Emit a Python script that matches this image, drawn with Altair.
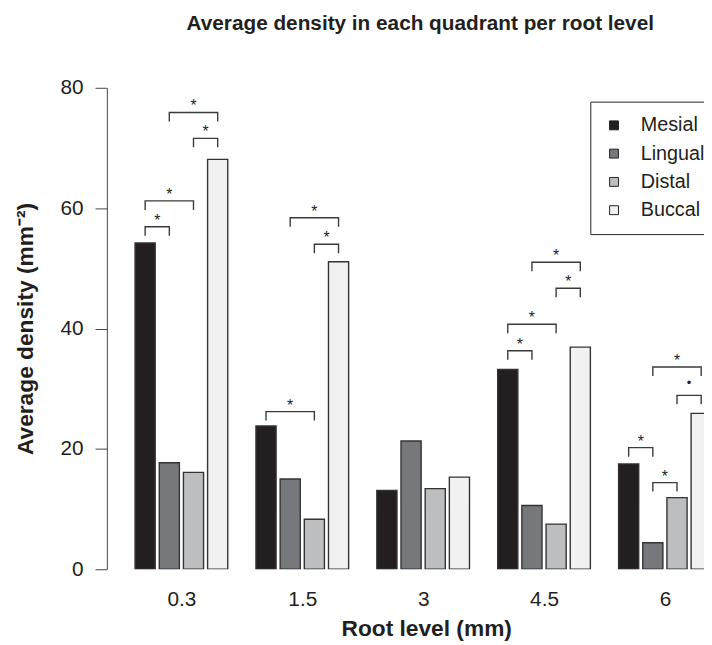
import altair as alt
import pandas as pd

# ---- data ----
levels = ["0.3", "1.5", "3", "4.5", "6"]
quadrants = ["Mesial", "Lingual", "Distal", "Buccal"]
mesial = [54.2, 23.8, 13.1, 33.2, 17.5]
lingual = [17.7, 15.0, 21.3, 10.6, 4.4]
distal = [16.1, 8.3, 13.4, 7.5, 11.9]
buccal = [68.1, 51.1, 15.3, 36.9, 25.9]
colors = ["#231f20", "#77787b", "#bcbec0", "#f1f1f2"]

# significance brackets
br_level = [0, 0, 0, 0, 1, 1, 1, 3, 3, 3, 3, 4, 4, 4, 4]
br_from = ["Mesial", "Mesial", "Distal", "Lingual", "Mesial", "Distal", "Lingual",
           "Mesial", "Mesial", "Distal", "Lingual", "Mesial", "Lingual", "Distal", "Lingual"]
br_to = ["Lingual", "Distal", "Buccal", "Buccal", "Distal", "Buccal", "Buccal",
         "Lingual", "Distal", "Buccal", "Buccal", "Lingual", "Distal", "Buccal", "Buccal"]
br_height = [56.9, 61.2, 71.6, 75.9, 26.2, 54.0, 58.4, 36.3, 40.7, 46.7, 51.0,
             20.2, 14.4, 28.9, 33.6]
br_mark = ["*"] * 13 + ["•", "*"]

# ---- layout (barplot-style units) ----
BAR_W = 1.0
GAP_IN = 0.2
GAP_GROUP = 1.4
PITCH = 4 * BAR_W + 3 * GAP_IN + GAP_GROUP
X_MAX = 29.64
LEG = 1.5
FONT = "Liberation Sans"
INK = "#231f20"


def bar_left(g, q):
    return GAP_GROUP + g * PITCH + q * (BAR_W + GAP_IN)


series = [mesial, lingual, distal, buccal]
rows = []
for g, lev in enumerate(levels):
    for q, quad in enumerate(quadrants):
        rows.append({"level": lev, "quadrant": quad, "value": series[q][g],
                     "xl": bar_left(g, q), "xr": bar_left(g, q) + BAR_W})
bars_df = pd.DataFrame(rows)

path_rows, text_rows = [], []
for k in range(len(br_level)):
    g = br_level[k]
    xi = bar_left(g, quadrants.index(br_from[k])) + BAR_W / 2
    xj = bar_left(g, quadrants.index(br_to[k])) + BAR_W / 2
    h = br_height[k]
    for o, (x, y) in enumerate([(xi, h - LEG), (xi, h), (xj, h), (xj, h - LEG)]):
        path_rows.append({"id": k, "o": o, "x": x, "y": y})
    text_rows.append({"x": (xi + xj) / 2, "y": h, "mark": br_mark[k]})
path_df = pd.DataFrame(path_rows)
text_df = pd.DataFrame(text_rows)

centers = [bar_left(g, 0) + (4 * BAR_W + 3 * GAP_IN) / 2 for g in range(len(levels))]
label_expr = ("[" + ",".join("'%s'" % l for l in levels) + "]"
              + "[round((datum.value - %f) / %f)]" % (centers[0], PITCH))

xscale = alt.Scale(domain=[0, X_MAX], nice=False, zero=False)
yscale = alt.Scale(domain=[0, 80], nice=False)

x_axis = alt.Axis(values=centers, labelExpr=label_expr, title="Root level (mm)",
                  ticks=False, tickSize=0, domain=False, grid=False,
                  labelFontSize=21, labelPadding=20, labelColor=INK, labelFont=FONT,
                  titleFontSize=23, titleFontWeight="bold", titleFont=FONT,
                  titleColor=INK, titleX=323, titleY=67, titleAlign="center",
                  titleBaseline="alphabetic")
y_axis = alt.Axis(values=[0, 20, 40, 60, 80], title="Average density (mm⁻²)",
                  grid=False, tickSize=12, tickColor="#444", domainColor="#444",
                  tickWidth=1, domainWidth=1,
                  labelFontSize=21, labelPadding=12, labelColor=INK, labelFont=FONT,
                  titleFontSize=23, titleFontWeight="bold", titleFont=FONT,
                  titleColor=INK, titleX=-75, titleBaseline="alphabetic")

bars = alt.Chart(bars_df).mark_rect(stroke="#333333", strokeWidth=1.4, clip=True).encode(
    x=alt.X("xl:Q", scale=xscale, axis=x_axis),
    x2="xr:Q",
    y=alt.Y("value:Q", scale=yscale, axis=y_axis),
    y2=alt.datum(0),
    color=alt.Color("quadrant:N",
                    scale=alt.Scale(domain=quadrants, range=colors),
                    legend=alt.Legend(title=None, orient="none", legendX=489, legendY=14,
                                      symbolType="square", symbolSize=81,
                                      symbolStrokeColor="#222", symbolStrokeWidth=1,
                                      labelFontSize=20, labelFont=FONT, labelColor=INK,
                                      labelOffset=17, rowPadding=8.6, padding=14,
                                      labelLimit=300,
                                      strokeColor="#222", fillColor="white")),
)

brackets = alt.Chart(path_df).mark_line(color="#3a3a3a", strokeWidth=1.4, clip=True).encode(
    x=alt.X("x:Q", scale=xscale),
    y=alt.Y("y:Q", scale=yscale),
    detail="id:N",
    order="o:Q",
)

stars = alt.Chart(text_df).transform_filter("datum.mark == '*'").mark_text(
    fontSize=16, font=FONT, color=INK, baseline="alphabetic", dy=-1, clip=True
).encode(x=alt.X("x:Q", scale=xscale), y=alt.Y("y:Q", scale=yscale), text="mark:N")

dots = alt.Chart(text_df).transform_filter("datum.mark != '*'").mark_text(
    fontSize=13, font=FONT, color=INK, baseline="alphabetic", dy=-8, clip=True
).encode(x=alt.X("x:Q", scale=xscale), y=alt.Y("y:Q", scale=yscale), text="mark:N")

chart = alt.layer(bars, brackets, stars, dots).properties(
    width=604, height=487,
    padding={"left": 100, "top": 77, "right": 0, "bottom": 80},
    autosize=alt.AutoSizeParams(type="none"),
    background="white",
    title=alt.TitleParams("Average density in each quadrant per root level",
                          fontSize=21, fontWeight="bold", font=FONT, color=INK,
                          anchor="middle", frame="group", offset=26,
                          baseline="alphabetic", dx=15),
).configure_view(stroke=None)

chart.save("out.html", embed_options={"renderer": "svg", "actions": False})
